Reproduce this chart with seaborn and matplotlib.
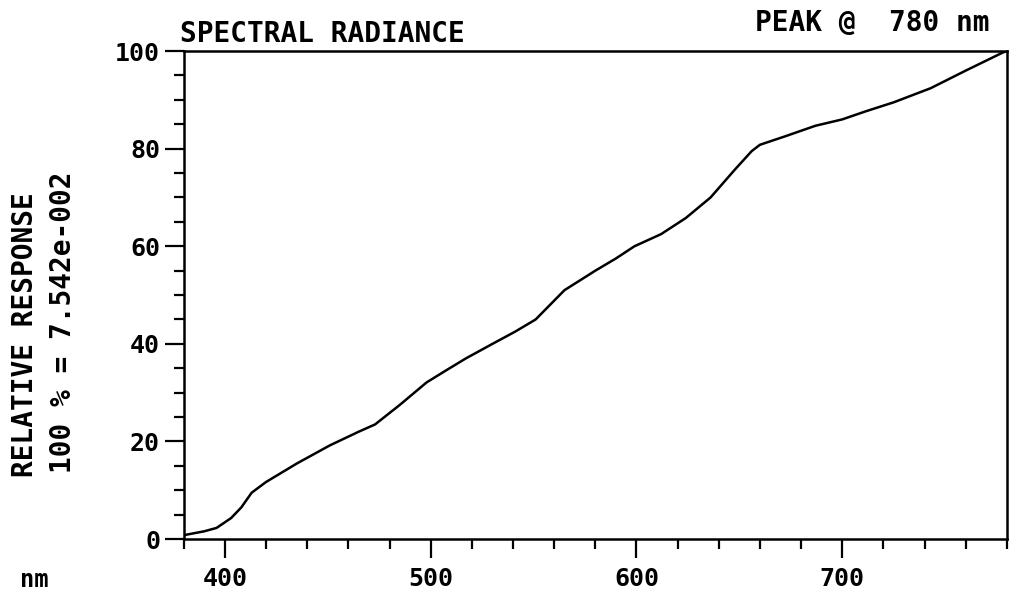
import matplotlib
matplotlib.use("Agg")
import matplotlib.pyplot as plt
from matplotlib.ticker import MultipleLocator
import seaborn as sns
import pandas as pd

# Data
wavelength_nm = [380, 390, 396, 403, 408, 413, 420, 435, 451, 465, 473, 485,
                 498, 508, 517, 530, 541, 551, 558, 565, 580, 590, 599, 612,
                 624, 636, 648, 656, 660, 672, 687, 700, 711, 725, 743, 760, 778, 780]
relative_response = [0.8, 1.6, 2.3, 4.3, 6.5, 9.5, 11.7, 15.5, 19.2, 22.0, 23.5, 27.5,
                     32.1, 34.7, 37.0, 40.0, 42.5, 45.0, 48.0, 51.0, 55.0, 57.5, 60.0, 62.5,
                     65.8, 70.0, 75.8, 79.5, 80.8, 82.5, 84.7, 86.0, 87.6, 89.5, 92.4, 96.0, 99.7, 100.0]

x_major = [400, 500, 600, 700]
y_major = [0, 20, 40, 60, 80, 100]

title_left = "SPECTRAL RADIANCE"
title_right = "PEAK @  780 nm"
ylabel_1 = "RELATIVE RESPONSE"
ylabel_2 = "100 % = 7.542e-002"
xunit = "nm"

sns.set_style("ticks")
plt.rcParams['font.family'] = ['DejaVu Sans Mono', 'DejaVu Sans']
plt.rcParams['font.weight'] = 'bold'
plt.rcParams['text.color'] = 'black'
plt.rcParams['xtick.color'] = 'black'
plt.rcParams['ytick.color'] = 'black'

df = pd.DataFrame({"nm": wavelength_nm, "resp": relative_response})

fig = plt.figure(figsize=(10.15, 6.01), dpi=100)
ax = fig.add_axes([0.181, 0.103, 0.811, 0.812])

sns.lineplot(data=df, x="nm", y="resp", ax=ax, color="black", linewidth=1.8)

ax.set_xlim(380, 780)
ax.set_ylim(0, 100)
ax.set_xticks(x_major)
ax.set_yticks(y_major)
ax.xaxis.set_minor_locator(MultipleLocator(20))
ax.yaxis.set_minor_locator(MultipleLocator(5))
ax.tick_params(axis='both', which='both', bottom=True, left=True, top=False, right=False)
ax.tick_params(axis='both', which='major', direction='out', length=14, width=1.6,
               color='black', labelcolor='black', labelsize=18, pad=3)
ax.tick_params(axis='both', which='minor', direction='out', length=7, width=1.6,
               color='black')
ax.tick_params(axis='x', which='major', pad=6)
for lab in ax.get_xticklabels() + ax.get_yticklabels():
    lab.set_fontweight('bold')

for s in ax.spines.values():
    s.set_visible(True)
    s.set_color('black')
    s.set_linewidth(1.8)

ax.set_xlabel("")
ax.set_ylabel("")

fig.text(0.177, 0.943, title_left, fontsize=20, fontweight='bold', ha='left', va='center')
fig.text(0.975, 0.962, title_right, fontsize=20, fontweight='bold', ha='right', va='center')
fig.text(0.025, 0.443, ylabel_1, fontsize=20, fontweight='bold', rotation=90,
         ha='center', va='center')
fig.text(0.062, 0.464, ylabel_2, fontsize=20, fontweight='bold', rotation=90,
         ha='center', va='center')
fig.text(0.034, 0.035, xunit, fontsize=17, fontweight='bold', ha='center', va='center')

fig.savefig("out.png", dpi=100, facecolor="white")
